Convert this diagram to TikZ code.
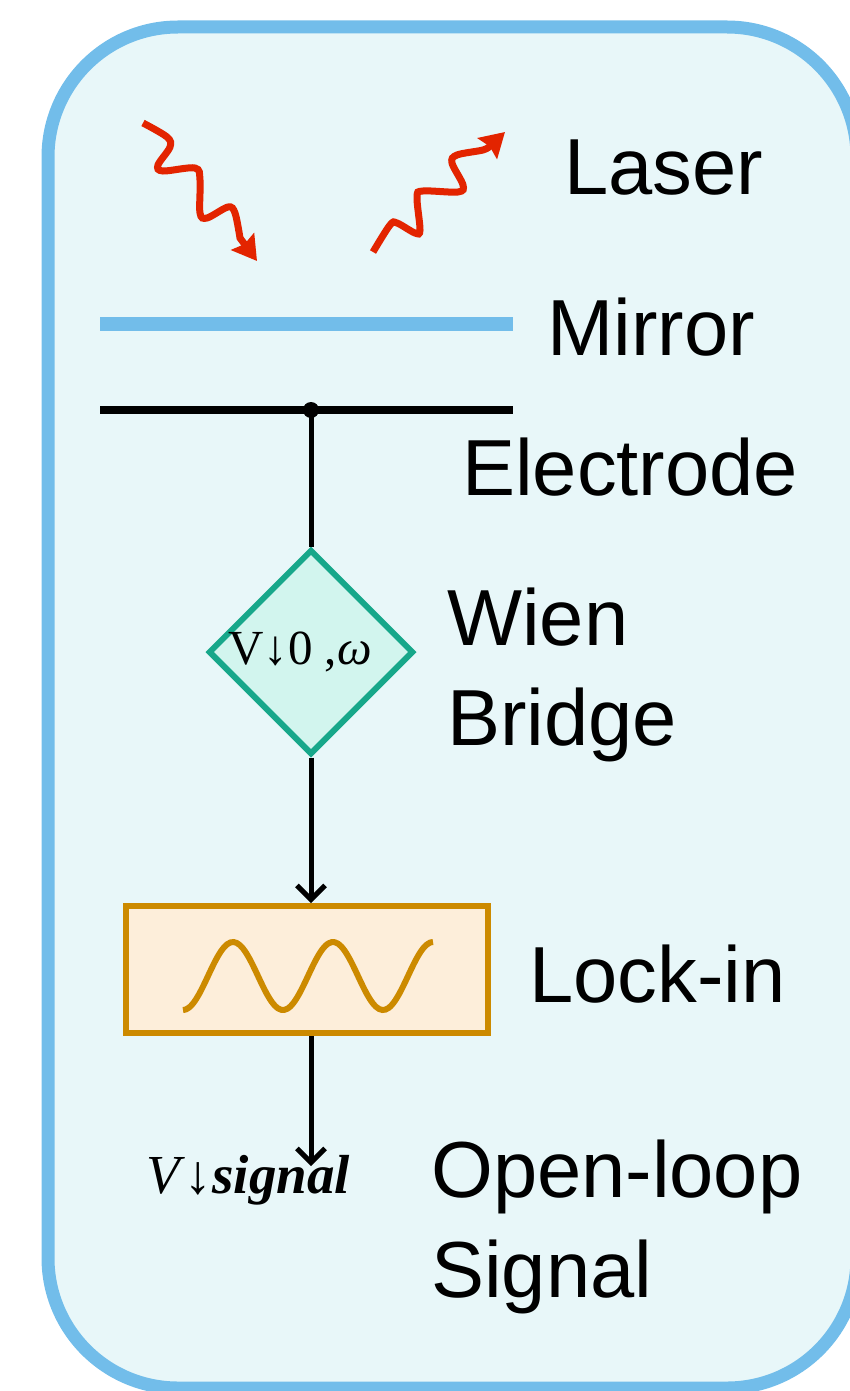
\documentclass[tikz,border=0pt]{standalone}
\usepackage{fontspec}
\setmainfont{Liberation Sans}
\newfontfamily\symserif{Liberation Serif}
\usetikzlibrary{arrows.meta,positioning,shapes.geometric}
\definecolor{frameblue}{HTML}{72BDEA}
\definecolor{framefill}{HTML}{E8F7F9}
\definecolor{rayred}{HTML}{E32400}
\definecolor{bridgeteal}{HTML}{17A78A}
\definecolor{bridgefill}{HTML}{D2F5EE}
\definecolor{lockgold}{HTML}{CC8A00}
\definecolor{lockfill}{HTML}{FDEEDA}

\begin{document}
\begin{tikzpicture}[x=1pt,y=-1pt,
      tag/.style={font=\fontsize{79.5}{100}\selectfont,inner sep=0pt,align=left},
      frame/.style={draw=frameblue,fill=framefill,line width=13pt,rounded corners=130pt},
      ray/.style={draw=rayred,line width=7pt,-{Stealth[length=24pt,width=28pt,inset=3pt]}},
      bridge/.style={diamond,draw=bridgeteal,fill=bridgefill,line width=6pt,
                     minimum size=205pt,inner sep=0pt,font=\symserif\fontsize{49}{56}\selectfont},
      lockbox/.style={rectangle,draw=lockgold,fill=lockfill,line width=6pt,
                      minimum width=362pt,minimum height=127pt,inner sep=0pt},
      wire/.style={line width=5pt},
      arr/.style={wire,-{Straight Barb[length=14pt,width=28pt]}}]
    \useasboundingbox (0,0) rectangle (850,1391);
    \path[frame] (48,27) rectangle (857,1388);
    % photons
    \draw[ray] plot[smooth,tension=0.55] coordinates {(143,123) (167,137) (170,147) (158,165) (163,171)
      (195,168) (200,180) (200,213) (207,218) (228,207) (235,213) (240,238)} -- (257,261);
    \draw[ray] plot[smooth,tension=0.55] coordinates {(373,252) (390,225) (397,223) (415,233) (420,230)
      (417,197) (423,191) (458,192) (463,185) (452,163) (457,155) (483,150) (490,146)} -- (505,132);
    % mirror and electrode
    \draw[frameblue,line width=14pt] (100,324) -- (513,324);
    \draw[line width=8pt] (100,410) -- (513,410);
    \coordinate (tap) at (311,410);
    \fill (tap) circle[radius=8pt];
    \node[bridge] (wien) at (311,652) {\makebox[0pt]{\kern-22pt V↓0 ,\textit{ω}}};
    \node[lockbox] (lockin) at (307,969.5) {};
    \draw[lockgold,line width=6pt] plot[domain=183:433,samples=80,smooth] (\x,{976-34*cos(3.6*(\x-233))});
    \coordinate (sigend) at (311,1166);
    \node[font=\symserif\fontsize{55}{60}\selectfont,inner sep=0pt,anchor=base] (vsig) at (248,1193)
      {\textit{V}↓\textbf{\textit{signal}}};
    \draw[wire] (tap) -- (wien.north);
    \draw[arr] (wien.south) -- (wien.south |- lockin.north);
    \draw[arr] (lockin.south -| sigend) -- (sigend);
    % labels
    \node[tag,anchor=base west] (laser) at (564,195) {Laser};
    \node[tag,anchor=base west] (mirror) at (547,355) {Mirror};
    \node[tag,anchor=base west] (electrode) at (462,495) {Electrode};
    \node[tag,anchor=north west] (wienlbl) at (447,588) {Wien\\Bridge};
    \node[tag,anchor=base west] (locklbl) at (529,1002) {Lock-in};
    \node[tag,anchor=north west] (openlbl) at (431,1140) {Open-loop\\Signal};
  \end{tikzpicture}
\end{document}
